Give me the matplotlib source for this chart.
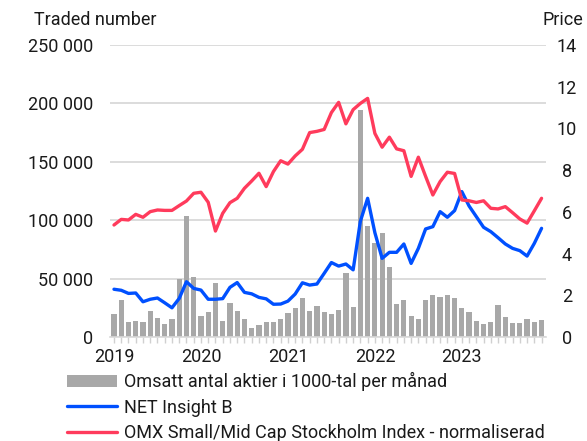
import matplotlib
matplotlib.use('Agg')
import matplotlib.pyplot as plt
import numpy as np

plt.rcParams['font.family'] = ['Roboto', 'DejaVu Sans']

# monthly data Jan 2019 - Dec 2023
months = np.arange(60)
years = ['2019', '2020', '2021', '2022', '2023']

volume = [20000, 32000, 12500, 13800, 13000, 22500, 16000, 11500, 15000, 49500,
          104000, 51500, 18000, 21500, 46500, 13500, 29500, 22000, 15500, 7800,
          10500, 12500, 12500, 15600, 20400, 24500, 33000, 22000, 26200, 21800,
          19300, 23000, 55000, 25300, 194000, 94700, 80200, 88700, 60300, 27900,
          32100, 18200, 15100, 31300, 35800, 34200, 36100, 33800, 24500, 21000,
          13400, 11100, 12800, 27600, 17100, 12200, 12200, 15100, 12500, 14500]

net_insight = [2.29, 2.24, 2.09, 2.11, 1.69, 1.81, 1.87, 1.64, 1.40, 1.85,
               2.65, 2.33, 2.25, 1.81, 1.81, 1.84, 2.38, 2.61, 2.14, 2.07,
               1.90, 1.83, 1.57, 1.58, 1.72, 2.06, 2.60, 2.49, 2.54, 3.05,
               3.57, 3.40, 3.50, 3.22, 5.55, 6.65, 5.00, 3.77, 4.06, 4.06,
               4.46, 3.53, 4.25, 5.18, 5.29, 6.01, 5.74, 6.06, 6.97, 6.28,
               5.77, 5.26, 5.05, 4.76, 4.46, 4.25, 4.14, 3.88, 4.49, 5.21]

omx = [5.37, 5.64, 5.61, 5.88, 5.74, 6.01, 6.09, 6.07, 6.07, 6.30,
       6.52, 6.89, 6.94, 6.46, 5.08, 5.93, 6.44, 6.65, 7.13, 7.48,
       7.85, 7.21, 7.93, 8.45, 8.29, 8.68, 9.00, 9.80, 9.86, 9.95,
       10.76, 11.25, 10.22, 10.90, 11.20, 11.44, 9.76, 9.10, 9.58, 9.02,
       8.93, 7.70, 8.62, 7.70, 6.81, 7.45, 7.90, 7.84, 6.57, 6.53,
       6.45, 6.53, 6.17, 6.14, 6.25, 5.96, 5.66, 5.46, 6.05, 6.65]

grey = '#a8a8a8'
blue = '#0050ff'
red = '#ff3b5c'
text_col = '#1a1a1a'

fig = plt.figure(figsize=(5.87, 4.41), dpi=100)
ax = fig.add_axes([0.1874, 0.2358, 0.7426, 0.6622])
ax2 = ax.twinx()

ax.bar(months, volume, width=0.72, color=grey, zorder=2,
       label='Omsatt antal aktier i 1000-tal per månad')
ln1, = ax2.plot(months, net_insight, color=blue, lw=2.4, solid_capstyle='round',
                solid_joinstyle='round', label='NET Insight B')
ln2, = ax2.plot(months, omx, color=red, lw=2.4, solid_capstyle='round',
                solid_joinstyle='round', label='OMX Small/Mid Cap Stockholm Index - normaliserad')

ax.set_xlim(-0.55, 59.6)
ax.set_ylim(0, 250000)
ax2.set_ylim(0, 14)

ax.set_yticks(np.arange(0, 250001, 50000))
ax.set_yticklabels([f'{v:,}'.replace(',', ' ') for v in range(0, 250001, 50000)])
ax2.set_yticks(np.arange(0, 15, 2))
ax2.set_yticklabels([str(v) for v in range(0, 15, 2)])

ax.grid(axis='y', color='#d9d9d9', lw=1.3, zorder=0)
ax.set_axisbelow(True)

ax.set_xticks(months[::12])
ax.set_xticklabels(years)
ax.set_xticks(months, minor=True)
ax.tick_params(axis='x', which='both', length=4, color='#d0d0d0', width=1,
               labelsize=13, labelcolor=text_col, pad=4)
ax.tick_params(axis='y', length=0, labelsize=13, labelcolor=text_col, pad=12)
ax2.tick_params(axis='y', length=0, labelsize=13, labelcolor=text_col, pad=15)
for lab in ax2.get_yticklabels():
    lab.set_horizontalalignment('center')

for a in (ax, ax2):
    for s in ('top', 'left', 'right'):
        a.spines[s].set_visible(False)
ax.spines['bottom'].set_color('#d9d9d9')
ax.spines['bottom'].set_linewidth(1.2)
ax2.spines['bottom'].set_visible(False)

fig.text(157 / 587, 1 - 20 / 441, 'Traded number', ha='right', va='center',
         fontsize=13, color=text_col)
fig.text(583 / 587, 1 - 20 / 441, 'Price', ha='right', va='center',
         fontsize=13, color=text_col)

bars = ax.containers[0]
fig.legend([bars, ln1, ln2],
           [bars.get_label(), ln1.get_label(), ln2.get_label()],
           loc='upper left', bbox_to_anchor=(0.101, 0.172), frameon=False,
           fontsize=13, handlelength=2.8, handletextpad=0.4, labelspacing=0.4,
           borderaxespad=0, labelcolor=text_col)

fig.savefig('out.png', dpi=100)
